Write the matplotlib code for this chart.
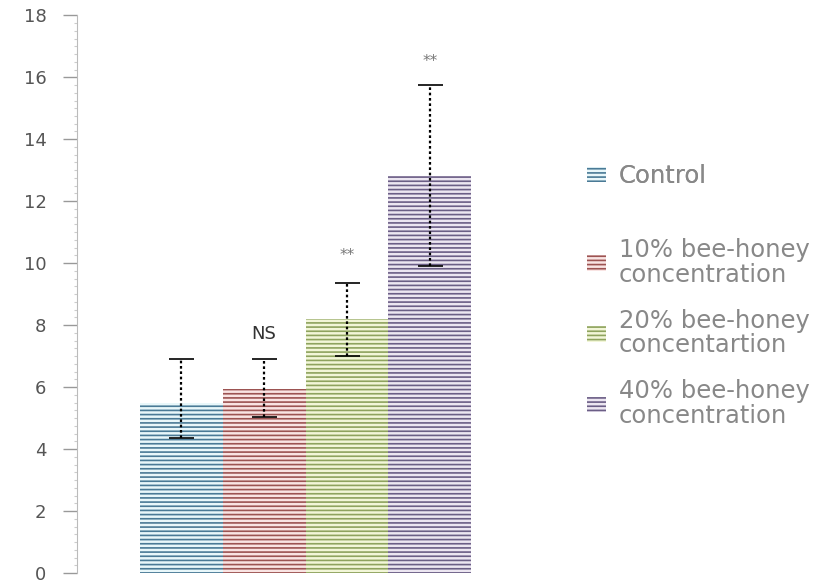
import matplotlib
matplotlib.use("Agg")
import matplotlib.pyplot as plt
import numpy as np

plt.rcParams['hatch.linewidth'] = 1.2

categories = ["Control", "10% bee-honey\nconcentration",
              "20% bee-honey\nconcentartion", "40% bee-honey\nconcentration"]
values = [5.5, 5.95, 8.2, 12.8]
err_low = [1.15, 0.9, 1.2, 2.9]
err_high = [1.4, 0.95, 1.15, 2.95]
annotations = ["", "NS", "**", "**"]
annot_y = [None, 7.7, 10.25, 16.5]
yticks = [0, 2, 4, 6, 8, 10, 12, 14, 16, 18]

face_colors = ["#e8f7fa", "#f9e4e3", "#f2f6d8", "#ece6f1"]
hatch_colors = ["#4a7a96", "#9c5352", "#8ea35e", "#6b5e86"]

fig = plt.figure(figsize=(8.31, 5.84), dpi=100)
ax = fig.add_axes([0.0927, 0.0188, 0.545, 0.955])

x = np.arange(len(values))
bars = []
for i in range(len(values)):
    b = ax.bar(x[i], values[i], width=1.0, color=face_colors[i],
               edgecolor=hatch_colors[i], linewidth=0, hatch='----',
               label=categories[i])
    bars.append(b)

eb = ax.errorbar(x, values, yerr=[err_low, err_high], fmt='none',
                 ecolor='black', elinewidth=1.6, capsize=9, capthick=1.2)
eb[2][0].set_linestyle((0, (1.2, 1.2)))

for i, t in enumerate(annotations):
    if t:
        if t == "NS":
            ax.text(x[i], annot_y[i], t, ha='center', va='center',
                    fontsize=13, color='#333333')
        else:
            ax.text(x[i], annot_y[i], t, ha='center', va='center',
                    fontsize=11, color='#777777')

ax.set_xlim(-1.26, 4.21)
ax.set_ylim(0, 18)
ax.set_yticks(yticks)
ax.set_yticklabels([str(v) for v in yticks], fontsize=13, color='#555555')
ax.tick_params(axis='y', length=10, width=1, color='#999999', pad=12)
ax.set_yticks(np.arange(0, 18.01, 0.25), minor=True)
ax.tick_params(axis='y', which='minor', length=2, color='#cccccc', width=0.8)
ax.set_xticks([])
for s in ['top', 'right', 'bottom']:
    ax.spines[s].set_visible(False)
ax.spines['left'].set_color('#bbbbbb')
ax.spines['left'].set_linestyle((0, (1, 1)))

h = [b.patches[0] for b in bars]
leg1 = fig.legend([h[0]], [categories[0]], loc='center left',
                  bbox_to_anchor=(0.68, 1 - 176 / 584), frameon=False,
                  fontsize=17.5, handlelength=0.8, handleheight=0.6,
                  handletextpad=0.5, labelcolor='#888888')
leg2 = fig.legend(h[1:], categories[1:], loc='center left',
                  bbox_to_anchor=(0.68, 1 - 333 / 584), frameon=False,
                  fontsize=17.5, handlelength=0.8, handleheight=0.6,
                  handletextpad=0.5, labelspacing=0.9, labelcolor='#888888')
for leg in (leg1, leg2):
    for t in leg.get_texts():
        t.set_linespacing(1.05)
fig.add_artist(leg1)

fig.savefig("out.png", dpi=100)
